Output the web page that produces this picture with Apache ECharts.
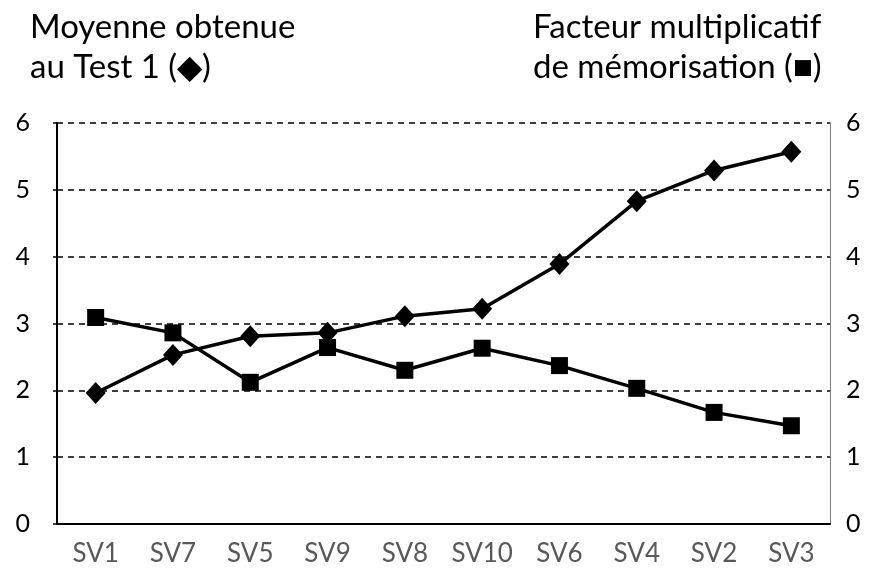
<!DOCTYPE html>
<html>
<head>
<meta charset="utf-8">
<script src="https://cdn.jsdelivr.net/npm/echarts@6/dist/echarts.min.js"></script>
<style>
  html, body { margin: 0; padding: 0; background: #fff; }
  #main { width: 869px; height: 577px; }
</style>
</head>
<body>
<div id="main"></div>
<script>
// groupes, dans l'ordre du graphique
var groupes = ['SV1', 'SV7', 'SV5', 'SV9', 'SV8', 'SV10', 'SV6', 'SV4', 'SV2', 'SV3'];
// moyenne au Test 1 (losanges)
var moyenne = [1.96, 2.53, 2.81, 2.86, 3.11, 3.22, 3.89, 4.83, 5.29, 5.57];
// facteur multiplicatif de mémorisation (carrés)
var facteur = [3.09, 2.86, 2.12, 2.64, 2.30, 2.63, 2.37, 2.03, 1.67, 1.47];

var police = 'Lato, "Open Sans", sans-serif';

var myChart = echarts.init(document.getElementById('main'));

var option = {
    backgroundColor: '#fff',
    animation: false,
    textStyle: { fontFamily: police },
    title: [
        {
            text: 'Moyenne obtenue\nau Test 1 (◆)',
            left: 25,
            top: 2,
            textStyle: { fontFamily: police, fontSize: 33, fontWeight: 'normal', color: '#000', lineHeight: 40 }
        },
        {
            text: 'Facteur multiplicatif\nde mémorisation (■)',
            left: 528,
            top: 2,
            textStyle: { fontFamily: police, fontSize: 33, fontWeight: 'normal', color: '#000', lineHeight: 40 }
        }
    ],
    grid: { left: 57, right: 39, top: 123, bottom: 53, containLabel: false },
    xAxis: {
        type: 'category',
        data: groupes,
        boundaryGap: true,
        axisLine: { lineStyle: { color: '#000', width: 2 } },
        axisTick: { show: false },
        axisLabel: { interval: 0, color: '#595959', fontSize: 26, margin: 17, fontFamily: police }
    },
    yAxis: [
        {
            type: 'value',
            min: 0, max: 6, interval: 1,
            axisLine: { show: true, lineStyle: { color: '#000', width: 2 } },
            axisTick: { show: true, length: 4, lineStyle: { color: '#000', width: 1.5 } },
            axisLabel: { color: '#000', fontSize: 25, margin: 27, fontFamily: police },
            splitLine: { show: true, lineStyle: { color: '#000', type: [6, 5], width: 1.5 } }
        },
        {
            type: 'value',
            min: 0, max: 6, interval: 1,
            position: 'right',
            axisLine: { show: true, lineStyle: { color: '#808080', width: 1 } },
            axisTick: { show: false },
            axisLabel: { color: '#000', fontSize: 25, margin: 16, fontFamily: police },
            splitLine: { show: false }
        }
    ],
    series: [
        {
            name: 'Moyenne obtenue au Test 1',
            type: 'line',
            yAxisIndex: 0,
            data: moyenne,
            symbol: 'diamond',
            symbolSize: [20, 22],
            lineStyle: { color: '#000', width: 3.5 },
            itemStyle: { color: '#000' },
            z: 3
        },
        {
            name: 'Facteur multiplicatif de mémorisation',
            type: 'line',
            yAxisIndex: 1,
            data: facteur,
            symbol: 'rect',
            symbolSize: 17,
            lineStyle: { color: '#000', width: 3.5 },
            itemStyle: { color: '#000' },
            z: 4
        }
    ]
};

myChart.setOption(option);
</script>
</body>
</html>
